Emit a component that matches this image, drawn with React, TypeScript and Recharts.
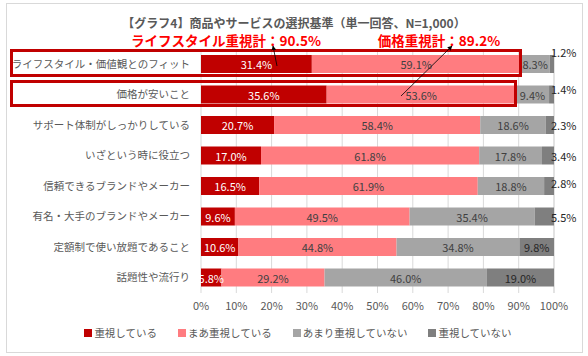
import React from 'react';
import {
  BarChart,
  Bar,
  XAxis,
  YAxis,
  CartesianGrid,
  LabelList,
} from 'recharts';

const categories = [
  'ライフスタイル・価値観とのフィット',
  '価格が安いこと',
  'サポート体制がしっかりしている',
  'いざという時に役立つ',
  '信頼できるブランドやメーカー',
  '有名・大手のブランドやメーカー',
  '定額制で使い放題であること',
  '話題性や流行り',
];

const seriesNames = ['重視している', 'まあ重視している', 'あまり重視していない', '重視していない'];

const important = [31.4, 35.6, 20.7, 17.0, 16.5, 9.6, 10.6, 5.8];
const fairlyImportant = [59.1, 53.6, 58.4, 61.8, 61.9, 49.5, 44.8, 29.2];
const notVery = [8.3, 9.4, 18.6, 17.8, 18.8, 35.4, 34.8, 46.0];
const notAtAll = [1.2, 1.4, 2.3, 3.4, 2.8, 5.5, 9.8, 19.0];

const xTicks = [0, 10, 20, 30, 40, 50, 60, 70, 80, 90, 100];

const title = '【グラフ4】商品やサービスの選択基準（単一回答、N=1,000）';
const noteLifestyle = 'ライフスタイル重視計：90.5%';
const notePrice = '価格重視計：89.2%';

const colors = ['#C00000', '#FF7C80', '#A5A5A5', '#7F7F7F'];
const FONT = '"Noto Sans CJK JP", "Noto Sans", sans-serif';

const data = categories.map((name, i) => ({
  name,
  s1: important[i],
  s2: fairlyImportant[i],
  s3: notVery[i],
  s4: notAtAll[i],
}));

const makeCenterLabel = (fill: string) => (props: any) => {
  const { x, y, width, height, value } = props;
  return (
    <text
      x={x + width / 2}
      y={y + height / 2}
      textAnchor="middle"
      dominantBaseline="central"
      fontSize={11}
      fontFamily={FONT}
      fill={fill}
    >
      {`${Number(value).toFixed(1)}%`}
    </text>
  );
};

// manually nudged labels for the thin last segment
const lastLift = [-12, -6, 0, 0, -3, 0, 0, 0];
const LastLabel = (props: any) => {
  const { x, y, width, height, value, index } = props;
  const small = value < 6;
  return (
    <text
      x={small ? x + width - 3 : x + width / 2}
      y={y + height / 2 + (lastLift[index] || 0)}
      textAnchor={small ? 'start' : 'middle'}
      dominantBaseline="central"
      fontSize={11}
      fontFamily={FONT}
      fill="#262626"
    >
      {`${Number(value).toFixed(1)}%`}
    </text>
  );
};

const App = () => {
  return (
    <div style={{ position: 'absolute', left: 0, top: 0, width: 588, height: 356, background: '#fff', fontFamily: FONT }}>
      <div
        style={{
          position: 'absolute',
          left: 6,
          top: 3,
          width: 575,
          height: 348,
          border: '1px solid #D9D9D9',
        }}
      />
      <div style={{ position: 'absolute', left: 0, top: 0 }}>
        <BarChart
          width={588}
          height={356}
          data={data}
          layout="vertical"
          margin={{ top: 49, right: 34, left: 0, bottom: 33 }}
        >
          <CartesianGrid horizontal={false} stroke="#D9D9D9" />
          <XAxis
            type="number"
            domain={[0, 100]}
            ticks={xTicks}
            tickFormatter={(v) => `${v}%`}
            axisLine={false}
            tickLine={false}
            tickSize={0}
            tickMargin={9}
            tick={{ fill: '#595959', fontSize: 11, fontFamily: FONT }}
            interval={0}
          />
          <YAxis
            type="category"
            dataKey="name"
            width={201}
            axisLine={false}
            tickLine={false}
            tickSize={0}
            tickMargin={11}
            tick={{ fill: '#595959', fontSize: 10.5, fontFamily: FONT }}
            interval={0}
          />
          <Bar dataKey="s1" stackId="a" fill={colors[0]} barSize={18} isAnimationActive={false}>
            <LabelList dataKey="s1" content={makeCenterLabel('#FFFFFF')} />
          </Bar>
          <Bar dataKey="s2" stackId="a" fill={colors[1]} barSize={18} isAnimationActive={false}>
            <LabelList dataKey="s2" content={makeCenterLabel('#404040')} />
          </Bar>
          <Bar dataKey="s3" stackId="a" fill={colors[2]} barSize={18} isAnimationActive={false}>
            <LabelList dataKey="s3" content={makeCenterLabel('#404040')} />
          </Bar>
          <Bar dataKey="s4" stackId="a" fill={colors[3]} barSize={18} isAnimationActive={false}>
            <LabelList dataKey="s4" content={LastLabel} />
          </Bar>
        </BarChart>
      </div>

      {/* title, callouts and highlight boxes */}
      <svg
        width={588}
        height={356}
        style={{ position: 'absolute', left: 0, top: 0, pointerEvents: 'none' }}
      >
        <defs>
          <marker id="arrow" viewBox="0 0 10 10" refX="9" refY="5" markerWidth="6" markerHeight="6" orient="auto">
            <path d="M0,0 L10,5 L0,10 z" fill="#000" />
          </marker>
        </defs>
        <text x={294} y={22} textAnchor="middle" dominantBaseline="central" fontSize={12} fontWeight="bold" fill="#595959" fontFamily={FONT}>
          {title}
        </text>
        <text x={226} y={40} textAnchor="middle" dominantBaseline="central" fontSize={13.5} fontWeight="bold" fill="#FF0000" fontFamily={FONT}>
          {noteLifestyle}
        </text>
        <text x={439} y={40} textAnchor="middle" dominantBaseline="central" fontSize={13.5} fontWeight="bold" fill="#FF0000" fontFamily={FONT}>
          {notePrice}
        </text>
        <rect x={11.5} y={50.5} width={509} height={25} fill="none" stroke="#C00000" strokeWidth={3} />
        <rect x={11.5} y={81.5} width={504} height={24} fill="none" stroke="#C00000" strokeWidth={3} />
        <line x1={277} y1={66} x2={273} y2={46} stroke="#000" strokeWidth={0.8} markerEnd="url(#arrow)" />
        <line x1={401} y1={96} x2={452} y2={46} stroke="#000" strokeWidth={0.8} markerEnd="url(#arrow)" />
      </svg>

      {/* legend */}
      <div
        style={{
          position: 'absolute',
          left: 0,
          top: 325,
          width: 588,
          display: 'flex',
          justifyContent: 'center',
          fontSize: 10.5,
          color: '#595959',
          paddingLeft: 8,
          boxSizing: 'border-box',
        }}
      >
        {seriesNames.map((n, i) => (
          <div key={n} style={{ display: 'flex', alignItems: 'center', marginRight: i < 3 ? 21 : 0 }}>
            <span style={{ display: 'inline-block', width: 8, height: 8, background: colors[i], marginRight: 2 }} />
            <span>{n}</span>
          </div>
        ))}
      </div>
    </div>
  );
};

export default App;
